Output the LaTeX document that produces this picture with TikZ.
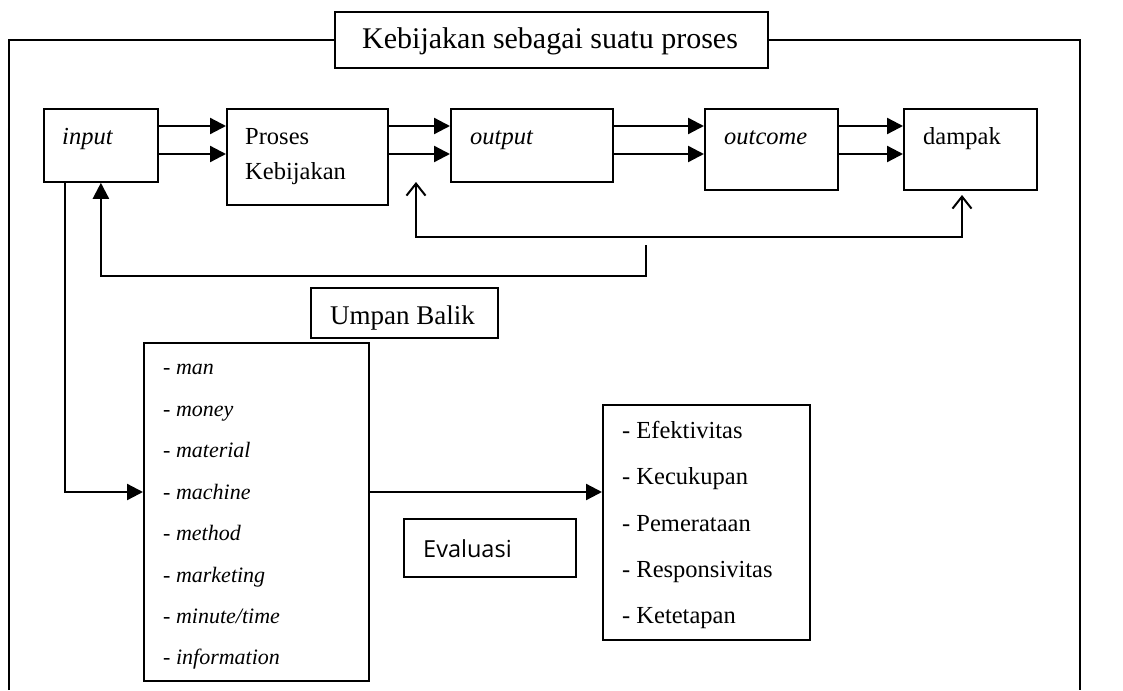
\documentclass[tikz,border=0pt]{standalone}
\usepackage{fontspec}
\setmainfont{Liberation Serif}
\newfontfamily\evfont{Open Sans}
\usetikzlibrary{arrows.meta,calc}
\tikzset{
  box/.style={draw, line width=1.8pt, inner sep=0pt, anchor=north west},
  txt/.style={anchor=base west, inner sep=0pt, font=\fontsize{24.5}{29}\selectfont},
  ltxt/.style={anchor=base west, inner sep=0pt, font=\fontsize{22}{26}\selectfont},
  arr/.style={line width=2.3pt, -{Triangle[length=16pt,width=16pt]}},
  openarr/.style={line width=2pt, {Straight Barb[length=12pt,width=19pt]}-{Straight Barb[length=12pt,width=19pt]}},
  frame/.style={line width=1.8pt}
}
\begin{document}
\begin{tikzpicture}[x=1pt,y=-1pt]
\useasboundingbox (0,0) rectangle (1123,690);
% boxes
\node[box, minimum width=433pt, minimum height=56pt] (title) at (334,11) {};
\node[box, minimum width=114pt, minimum height=73pt] (input) at (43,108) {};
\node[box, minimum width=161pt, minimum height=96pt] (proses) at (226,108) {};
\node[box, minimum width=162pt, minimum height=73pt] (output) at (450,108) {};
\node[box, minimum width=133pt, minimum height=81pt] (outcome) at (704,108) {};
\node[box, minimum width=133pt, minimum height=81pt] (dampak) at (903,108) {};
\node[box, minimum width=187pt, minimum height=50pt] (umpan) at (310,287) {};
\node[box, minimum width=225pt, minimum height=338pt] (list) at (143,342) {};
\node[box, minimum width=172pt, minimum height=58pt] (eval) at (403,518) {};
\node[box, minimum width=207pt, minimum height=235pt] (crit) at (602,404) {};
% texts
\node[txt, font=\fontsize{30}{35}\selectfont] (ttitle) at (362,49) {Kebijakan sebagai suatu proses};
\node[txt] (tinput) at (62,144) {\textit{input}};
\node[txt] (tproses1) at (245,144) {Proses};
\node[txt] (tproses2) at (245,179) {Kebijakan};
\node[txt] (toutput) at (470,144) {\textit{output}};
\node[txt] (toutcome) at (724,144) {\textit{outcome}};
\node[txt] (tdampak) at (923,144) {dampak};
\node[txt, font=\fontsize{27}{32}\selectfont] (tumpan) at (330,324) {Umpan Balik};
\node[txt, font=\evfont\fontsize{23.5}{28}\selectfont] (teval) at (423,557) {Evaluasi};
\node[ltxt] (l1) at (163,374) {- \textit{man}};
\node[ltxt] (l2) at (163,416) {- \textit{money}};
\node[ltxt] (l3) at (163,457) {- \textit{material}};
\node[ltxt] (l4) at (163,499) {- \textit{machine}};
\node[ltxt] (l5) at (163,540) {- \textit{method}};
\node[ltxt] (l6) at (163,582) {- \textit{marketing}};
\node[ltxt] (l7) at (163,623) {- \textit{minute/time}};
\node[ltxt] (l8) at (163,664) {- \textit{information}};
\node[txt] (c1) at (622,438) {- Efektivitas};
\node[txt] (c2) at (622,484) {- Kecukupan};
\node[txt] (c3) at (622,531) {- Pemerataan};
\node[txt] (c4) at (622,577) {- Responsivitas};
\node[txt] (c5) at (622,623) {- Ketetapan};
% outer frame
\coordinate (fbl) at (9,690);
\coordinate (fbr) at (1080,690);
\draw[frame] (fbl) |- (title.west);
\draw[frame] (title.east) -| (fbr);
% main flow arrows
\foreach \a/\b in {input/proses, proses/output, output/outcome, outcome/dampak}{
  \draw[arr] ([yshift=-18pt]\a.north east) -- ([yshift=-18pt]\b.north west);
  \draw[arr] ([yshift=-46pt]\a.north east) -- ([yshift=-46pt]\b.north west);
}
% feedback with open arrows
\coordinate (t1) at (416,182);
\coordinate (t2) at (962,195);
\coordinate (fbD) at (962,237);
\draw[openarr] (t1) |- (fbD) -- (t2);
% feedback to input
\coordinate (fbA) at (646,245);
\coordinate (fbB) at (646,276);
\draw[arr] (fbA) -- (fbB) -| (input.south);
% input to list
\draw[arr] ([xshift=22pt]input.south west) |- ([yshift=-150pt]list.north west);
% list to criteria
\draw[arr] ([yshift=-150pt]list.north east) -- ([yshift=-88pt]crit.north west);
\end{tikzpicture}
\end{document}
